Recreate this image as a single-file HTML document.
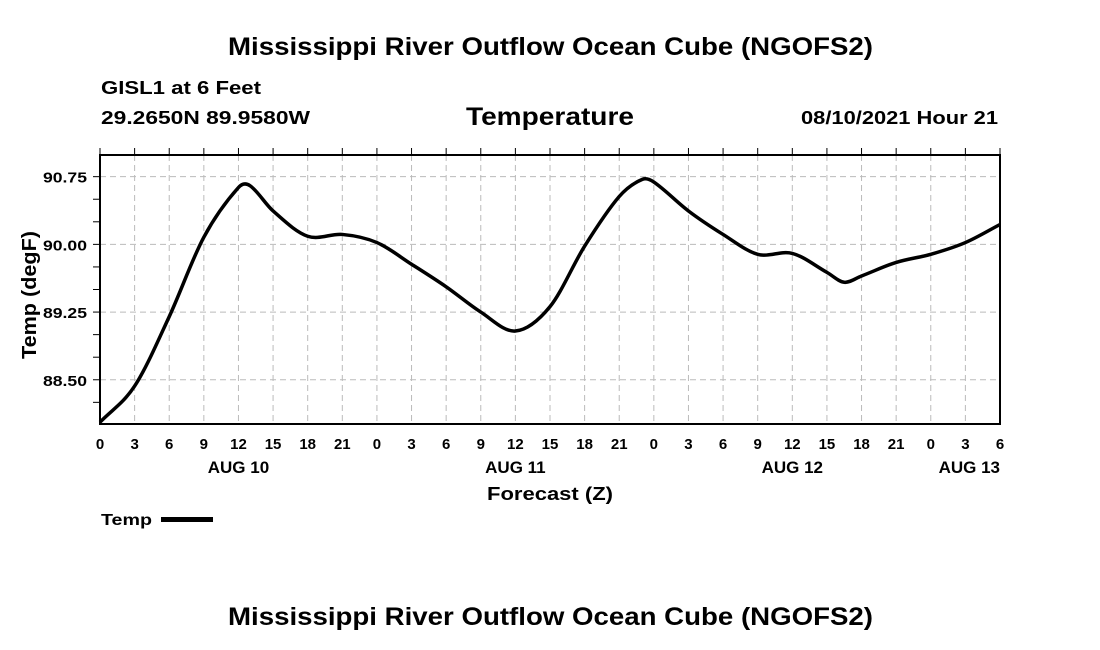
<!DOCTYPE html>
<html><head><meta charset="utf-8"><style>
html,body{margin:0;padding:0;background:#fff;}
svg{display:block;font-family:"Liberation Sans",Arial,sans-serif;font-weight:bold;}
</style></head><body>
<svg id="chart" width="1100" height="650" viewBox="0 0 1100 650">
<text x="228" y="55" font-size="25" textLength="645" lengthAdjust="spacingAndGlyphs">Mississippi River Outflow Ocean Cube (NGOFS2)</text>
<text x="101" y="94" font-size="18" textLength="160" lengthAdjust="spacingAndGlyphs">GISL1 at 6 Feet</text>
<text x="101" y="124" font-size="18" textLength="209" lengthAdjust="spacingAndGlyphs">29.2650N  89.9580W</text>
<text x="466" y="125" font-size="25" textLength="168" lengthAdjust="spacingAndGlyphs">Temperature</text>
<text x="801" y="124" font-size="18" textLength="197" lengthAdjust="spacingAndGlyphs">08/10/2021 Hour 21</text>
<g id="grid"></g>
<g id="axes"></g>
<path id="line" fill="none" stroke="#000" stroke-width="3.5" stroke-linejoin="round"></path>
<text x="0" y="0" font-size="20" textLength="128" lengthAdjust="spacingAndGlyphs" transform="translate(36 359) rotate(-90)">Temp (degF)</text>
<text x="487" y="500" font-size="18" textLength="126" lengthAdjust="spacingAndGlyphs">Forecast (Z)</text>
<g>
<text x="101" y="525" font-size="16" textLength="51" lengthAdjust="spacingAndGlyphs">Temp</text>
<rect x="161" y="517" width="52" height="5" fill="#000"></rect>
</g>
<text x="228" y="625" font-size="25" textLength="645" lengthAdjust="spacingAndGlyphs">Mississippi River Outflow Ocean Cube (NGOFS2)</text>
</svg>
<script>
const hours = [0,3,6,9,12,13,15,18,21,24,27,30,33,36,39,42,45,47,48,51,54,57,60,63,64.5,66,69,72,75,78];
const temps = [88.03,88.43,89.20,90.08,90.63,90.65,90.37,90.09,90.11,90.02,89.78,89.53,89.25,89.04,89.31,89.98,90.53,90.72,90.69,90.37,90.11,89.89,89.90,89.69,89.58,89.65,89.80,89.89,90.02,90.22];
const yTicks = [88.50,89.25,90.00,90.75];
const yTickLabels = ["88.50","89.25","90.00","90.75"];
const xTickHours = [0,3,6,9,12,15,18,21,24,27,30,33,36,39,42,45,48,51,54,57,60,63,66,69,72,75,78];
const dayLabels = ["AUG 10","AUG 11","AUG 12","AUG 13"];
const dayHours = [12,36,60,75];

const L=100,R=1000,T=155,B=424, X0=0,X1=78, Y0=88.01,Y1=90.99;
const xs=h=>L+(h-X0)/(X1-X0)*(R-L);
const ys=v=>B-(v-Y0)/(Y1-Y0)*(B-T);
const NS="http://www.w3.org/2000/svg";
const grid=document.getElementById('grid'), axes=document.getElementById('axes');
function mk(tag,attrs,parent){const e=document.createElementNS(NS,tag);for(const k in attrs)e.setAttribute(k,attrs[k]);parent.appendChild(e);return e;}
xTickHours.forEach(h=>{
  const x=xs(h);
  if(h>0&&h<78){const g=mk('line',{x1:x,x2:x,y1:T,y2:B,stroke:'#bbb','stroke-width':1,'stroke-dasharray':'6,4'},grid);
  
  }
  mk('line',{x1:x,x2:x,y1:T-7,y2:T,stroke:'#000','stroke-width':1},axes);
  const t=mk('text',{x:x,y:449,'font-size':15,'text-anchor':'middle'},axes);
  t.textContent=String(h%24);
  
  
});
yTicks.forEach((v,i)=>{
  const y=ys(v);
  const g=mk('line',{x1:L,x2:R,y1:y,y2:y,stroke:'#bbb','stroke-width':1,'stroke-dasharray':'6,4'},grid);
  
  
  const t=mk('text',{x:43,y:y+6,'font-size':15,textLength:44,lengthAdjust:'spacingAndGlyphs'},axes);
  t.textContent=yTickLabels[i];
  
  
});
for(let v=88.25;v<91;v+=0.25){const y=ys(v);mk('line',{x1:L-7,x2:L,y1:y,y2:y,stroke:'#000','stroke-width':1},axes);}
dayLabels.forEach((d,i)=>{
  const last=i===dayLabels.length-1;
  const t=mk('text',{x:last?1000:xs(dayHours[i]),y:473,'font-size':17,'text-anchor':last?'end':'middle'},axes);
  t.textContent=d;
  
  
});
const fr=mk('rect',{x:L,y:T,width:R-L,height:B-T,fill:'none',stroke:'#000','stroke-width':2},axes);


// non-uniform Catmull-Rom (finite-difference tangents)
const P=hours.map((h,i)=>[xs(h),ys(temps[i])]);
const n=P.length, m=[];
for(let i=0;i<n;i++){
  const a=P[Math.max(0,i-1)], b=P[Math.min(n-1,i+1)];
  m.push((b[1]-a[1])/(b[0]-a[0]));
}
let d='M'+P[0][0]+','+P[0][1];
for(let i=0;i<n-1;i++){
  const p1=P[i],p2=P[i+1],dx=(p2[0]-p1[0])/3;
  d+=` C${p1[0]+dx},${p1[1]+m[i]*dx} ${p2[0]-dx},${p2[1]-m[i+1]*dx} ${p2[0]},${p2[1]}`;
}
document.getElementById('line').setAttribute('d',d);
</script>
</body></html>
